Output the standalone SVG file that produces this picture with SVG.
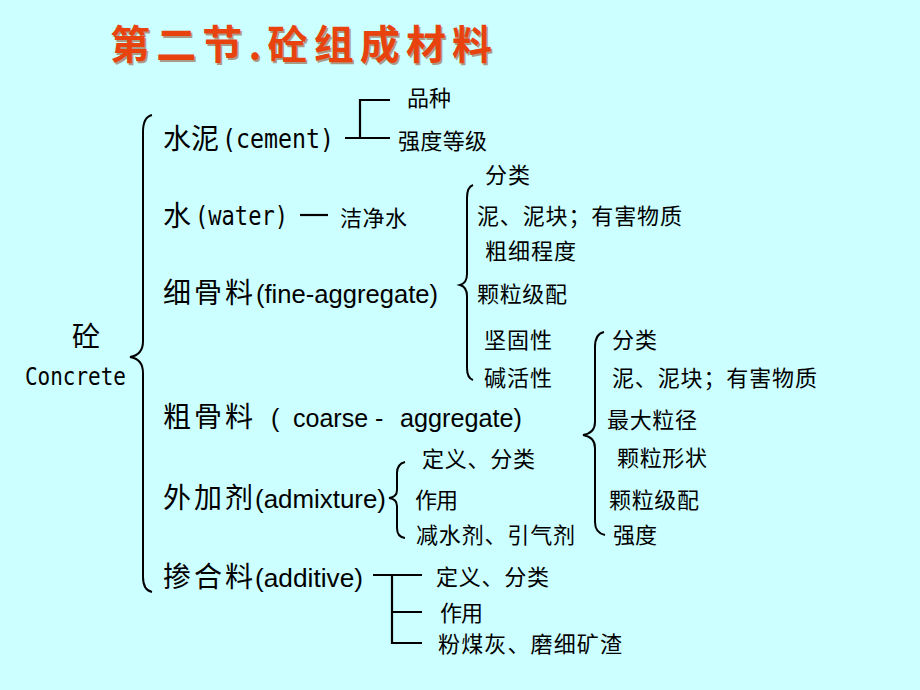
<svg xmlns="http://www.w3.org/2000/svg" width="920" height="690" viewBox="0 0 920 690">
<style>
.cjk{font-family:"Noto Sans CJK SC","Noto Sans",sans-serif;fill:#000}
.big{font-size:28px}
.sm{font-size:22px}
.mono{font-family:"DejaVu Sans Mono","Liberation Mono",monospace;fill:#000}
.ar{font-family:"Liberation Sans",Arial,sans-serif;font-size:25px;fill:#000}
.title{font-family:"Noto Sans CJK SC",sans-serif;font-size:40px;font-weight:bold}
.ln{fill:none;stroke:#000;stroke-width:2.2}
.br{fill:none;stroke:#000;stroke-width:2}
</style>
<rect width="920" height="690" fill="#CCFFFF"/>
<g id="title">
<text class="title" x="111.5" y="60.5" textLength="382" lengthAdjust="spacing" fill="#8a3a12" opacity="0.5">第二节.砼组成材料</text>
<text class="title" x="110" y="59" textLength="382" lengthAdjust="spacing" fill="#E8420E">第二节.砼组成材料</text>
</g>
<g id="connectors">
<path class="br" d="M152,115 Q143,117 143,132 L143,341 Q143,355 130,357 Q143,359 143,373 L143,577 Q143,590 152,592"/>
<path class="br" d="M473,185 Q467,187 467,198 L467,274 Q467,283 460,285 Q467,287 467,296 L467,368 Q467,378 473,380"/>
<path class="br" d="M604,332 Q595,334 595,347 L595,422 Q595,433 583,435 Q595,437 595,448 L595,522 Q595,533 605,535"/>
<path class="br" d="M405,462 Q397,464 397,473 L397,490 Q397,497 389,498 Q397,499 397,506 L397,528 Q397,537 405,538"/>
<path class="ln" d="M345,138 H390 M360,138 V100 H390"/>
<path class="ln" d="M300,215 H328"/>
<path class="ln" d="M373,575 H422 M392,575 V643 H422 M392,612 H422"/>
</g>
<g id="root">
<text class="cjk" x="72" y="347" font-size="28">砼</text>
<text class="mono" x="25" y="385" font-size="25" textLength="101" lengthAdjust="spacingAndGlyphs">Concrete</text>
</g>
<g id="cement">
<text class="cjk big" x="163" y="149">水泥</text>
<text class="mono" x="222" y="148" font-size="26" textLength="112" lengthAdjust="spacingAndGlyphs">(cement)</text>
<text class="cjk sm" x="407" y="106" font-size="21">品种</text>
<text class="cjk sm" x="398" y="149" textLength="89" lengthAdjust="spacing">强度等级</text>
</g>
<g id="water">
<text class="cjk big" x="163" y="226">水</text>
<text class="mono" x="195" y="225" font-size="26" textLength="93" lengthAdjust="spacingAndGlyphs">(water)</text>
<text class="cjk sm" x="340" y="225.5" textLength="67" lengthAdjust="spacing">洁净水</text>
</g>
<g id="fine">
<text class="cjk big" x="163" y="303" textLength="90" lengthAdjust="spacing">细骨料</text>
<text class="ar" x="256" y="303" textLength="182" lengthAdjust="spacingAndGlyphs">(fine-aggregate)</text>
<text class="cjk sm" x="485" y="182.5" textLength="45" lengthAdjust="spacing">分类</text>
<text class="cjk sm" x="477" y="223.5" textLength="205" lengthAdjust="spacing">泥、泥块；有害物质</text>
<text class="cjk sm" x="485" y="258.5" textLength="91" lengthAdjust="spacing">粗细程度</text>
<text class="cjk sm" x="477" y="301.5" textLength="90" lengthAdjust="spacing">颗粒级配</text>
<text class="cjk sm" x="484" y="348" textLength="68" lengthAdjust="spacing">坚固性</text>
<text class="cjk sm" x="484" y="386" textLength="68" lengthAdjust="spacing">碱活性</text>
</g>
<g id="coarse">
<text class="cjk big" x="163" y="427" textLength="90" lengthAdjust="spacing">粗骨料</text>
<text class="ar" x="271" y="427">(</text>
<text class="ar" x="293" y="427">coarse -</text>
<text class="ar" x="400" y="427" textLength="122" lengthAdjust="spacingAndGlyphs">aggregate)</text>
<text class="cjk sm" x="612" y="348" textLength="45" lengthAdjust="spacing">分类</text>
<text class="cjk sm" x="612" y="386" textLength="205" lengthAdjust="spacing">泥、泥块；有害物质</text>
<text class="cjk sm" x="607" y="427.5" textLength="90" lengthAdjust="spacing">最大粒径</text>
<text class="cjk sm" x="617" y="466" textLength="90" lengthAdjust="spacing">颗粒形状</text>
<text class="cjk sm" x="609" y="507.5" textLength="90" lengthAdjust="spacing">颗粒级配</text>
<text class="cjk sm" x="613" y="542.5" textLength="44" lengthAdjust="spacing">强度</text>
</g>
<g id="admixture">
<text class="cjk big" x="163" y="508" textLength="90" lengthAdjust="spacing">外加剂</text>
<text class="ar" x="255" y="508" textLength="131" lengthAdjust="spacingAndGlyphs">(admixture)</text>
<text class="cjk sm" x="422" y="467" textLength="113" lengthAdjust="spacing">定义、分类</text>
<text class="cjk sm" x="415" y="507.5" textLength="43" lengthAdjust="spacing">作用</text>
<text class="cjk sm" x="416" y="542.5" textLength="159" lengthAdjust="spacing">减水剂、引气剂</text>
</g>
<g id="additive">
<text class="cjk big" x="163" y="587" textLength="90" lengthAdjust="spacing">掺合料</text>
<text class="ar" x="255" y="587" textLength="108" lengthAdjust="spacingAndGlyphs">(additive)</text>
<text class="cjk sm" x="436" y="584.5" textLength="113" lengthAdjust="spacing">定义、分类</text>
<text class="cjk sm" x="440" y="621" textLength="43" lengthAdjust="spacing">作用</text>
<text class="cjk sm" x="438" y="651.5" textLength="184" lengthAdjust="spacing">粉煤灰、磨细矿渣</text>
</g>
</svg>
